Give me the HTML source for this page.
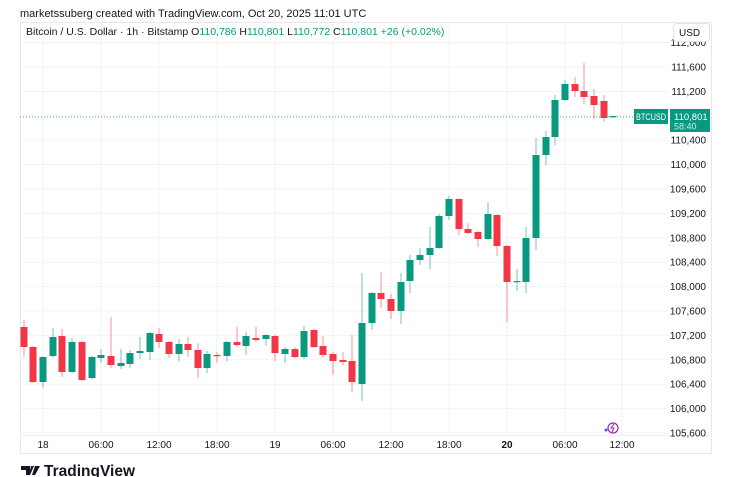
<!DOCTYPE html>
<html><head><meta charset="utf-8"><style>
body{margin:0;background:#fff;width:733px;height:477px;overflow:hidden;font-family:"Liberation Sans",sans-serif;}
svg{position:absolute;left:0;top:0}
</style></head><body>
<svg id="s" width="733" height="477" xmlns="http://www.w3.org/2000/svg" font-family="Liberation Sans, sans-serif">
<text x="20" y="17" font-size="11" fill="#131722">marketssuberg created with TradingView.com, Oct 20, 2025 11:01 UTC</text>
<rect x="20.5" y="22.5" width="691" height="431" fill="none" stroke="#e6e8ec"/>
<line x1="20" y1="435.5" x2="712" y2="435.5" stroke="#eef0f3"/>
<g id="grid"></g>
<g id="c"></g>
<line x1="20" y1="117" x2="668" y2="117" stroke="#089981" stroke-dasharray="1,2" opacity="0.8"/>
<text x="26" y="35" font-size="10.5" fill="#131722">Bitcoin / U.S. Dollar · 1h · Bitstamp <tspan>O</tspan><tspan fill="#089981">110,786</tspan> H<tspan fill="#089981">110,801</tspan> L<tspan fill="#089981">110,772</tspan> C<tspan fill="#089981">110,801</tspan> <tspan fill="#089981">+26 (+0.02%)</tspan></text>
<rect x="673.5" y="23.5" width="36" height="18" rx="3" fill="#fff" stroke="#e0e3eb"/>
<text x="679" y="36" font-size="10" fill="#131722">USD</text>
<rect x="634" y="109" width="34" height="15" fill="#089981"/>
<text x="636" y="120" font-size="9" fill="#fff" textLength="30" lengthAdjust="spacingAndGlyphs">BTCUSD</text>
<rect x="670" y="109" width="40" height="23" fill="#089981"/>
<text x="674" y="120" font-size="9.5" fill="#fff">110,801</text>
<text x="674" y="129.5" font-size="9" fill="#cfeee7">58:40</text>
<circle cx="613" cy="428" r="5" fill="none" stroke="#9c27b0" stroke-width="1.2"/>
<path d="M614,424 L611,428 L614,428 L612,432" stroke="#9c27b0" fill="none" stroke-width="1"/>
<circle cx="606" cy="430" r="1.5" fill="#2962ff"/>
<path d="M21,466 h9 v9 h-4 v-5 h-5z M31,466 h3 l-4,9 h-1z M35,466 h5 l-5,9 h-3z" fill="#131722"/>
<text x="44" y="476" font-size="15.5" font-weight="bold" fill="#131722">TradingView</text>
</svg>
<script>
const s=document.getElementById('grid'),c=document.getElementById('c');
const NS='http://www.w3.org/2000/svg';
function el(p,t,a){const e=document.createElementNS(NS,t);for(const k in a)e.setAttribute(k,a[k]);p.appendChild(e);return e;}
for(let p=105600;p<=112000;p+=400){const y=67+(111600-p)*0.061;
 if(y>22&&y<435){el(s,'line',{x1:20,x2:668,y1:y,y2:y,stroke:'#f2f3f5'});}
 if(y>35&&y<440&&!(y>105&&y<133)){const t=el(s,'text',{x:706,y:y+3.5,'font-size':10,fill:'#131722','text-anchor':'end'});t.textContent=p.toLocaleString('en-US');}
}
const tl=[[43,'18'],[101,'06:00'],[159,'12:00'],[217,'18:00'],[275,'19'],[333,'06:00'],[391,'12:00'],[449,'18:00'],[507,'20'],[565,'06:00'],[622,'12:00']];
tl.forEach(([x,l])=>{el(s,'line',{x1:x,x2:x,y1:22,y2:435,stroke:'#f2f3f5'});const t=el(s,'text',{x:x,y:448,'font-size':10,fill:'#131722','text-anchor':'middle','font-weight':(l=='20'?'bold':'normal')});t.textContent=l;});
const d=[[24,327,347,320,357,'r'],[33,347,382,346,383,'r'],[43,357,382,356,388,'g'],[53,337,356,328,358,'g'],[62,336,372,329,377,'r'],[72,342,372,338,373,'g'],[82,342,380,341,381,'r'],[92,357,378,356,379,'g'],[101,355,358,349,363,'g'],[111,356,365,317,368,'r'],[121,363,366,349,369,'g'],[130,353,364,350,368,'g'],[140,351,353,337,359,'g'],[150,333,352,332,360,'g'],[159,334,342,328,348,'r'],[169,342,354,341,358,'r'],[179,344,354,339,361,'g'],[188,344,350,337,357,'r'],[198,350,368,343,378,'r'],[207,354,368,351,373,'g'],[217,355,356,352,363,'r'],[227,342,356,341,361,'g'],[237,342,345,327,347,'r'],[246,336,346,332,355,'g'],[256,338,340,327,342,'r'],[266,335,339,334,346,'g'],[275,336,353,335,361,'r'],[285,349,354,347,363,'g'],[295,349,357,347,358,'r'],[304,331,357,326,359,'g'],[314,330,347,329,348,'r'],[323,346,355,336,358,'r'],[333,354,361,352,375,'r'],[343,360,362,352,365,'r'],[352,361,382,335,392,'r'],[362,323,384,273,401,'g'],[372,293,323,292,330,'g'],[381,293,299,272,308,'r'],[391,299,311,294,319,'r'],[401,282,311,273,324,'g'],[410,260,281,255,293,'g'],[420,255,260,248,265,'g'],[430,248,255,227,269,'g'],[439,216,248,214,249,'g'],[449,199,216,196,220,'g'],[459,199,229,198,235,'r'],[468,229,233,223,234,'r'],[478,232,239,231,247,'r'],[488,214,239,202,240,'g'],[497,215,246,214,256,'r'],[507,246,282,245,322,'r'],[517,281,282,269,291,'g'],[526,238,282,227,293,'g'],[536,155,238,138,250,'g'],[546,137,155,131,165,'g'],[555,100,137,95,145,'g'],[565,84,100,80,101,'g'],[575,84,91,77,97,'r'],[584,91,97,63,104,'r'],[594,96,105,89,119,'r'],[604,101,118,95,122,'r'],[613,116,117,116,118,'g']];
d.forEach(([x,bt,bb,wt,wb,k])=>{const col=k=='g'?'#089981':'#f23645';
 el(c,'line',{x1:x,x2:x,y1:wt,y2:wb,stroke:col,'stroke-width':1,opacity:0.55});
 el(c,'rect',{x:x-3.5,y:bt,width:7,height:Math.max(1.2,bb-bt),fill:col});});
</script>
</body></html>
